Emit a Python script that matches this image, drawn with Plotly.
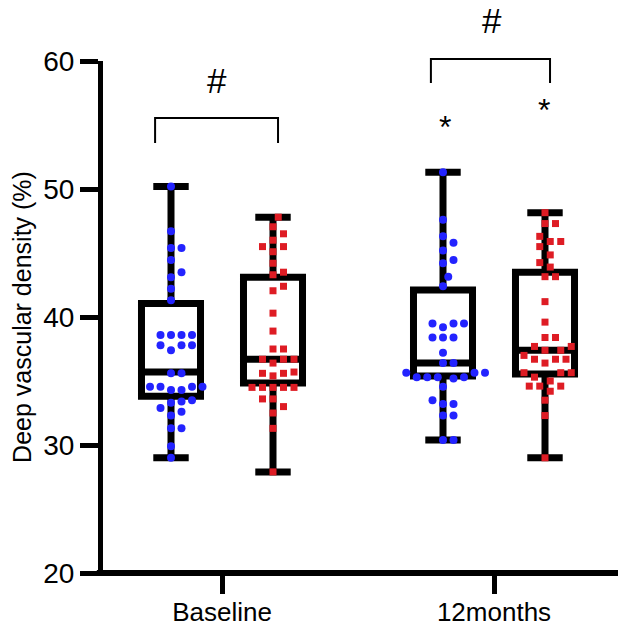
import plotly.graph_objects as go

# ---------------- data ----------------
groups = ["Baseline", "12months"]

blue_baseline = [50.2, 46.7, 45.4, 45.4, 44.45, 43.5, 43.1, 42.2, 41.3,
                 38.6, 38.6, 38.6, 38.6, 37.8, 37.8, 37.4, 37.8,
                 35.6, 35.6, 34.55, 34.55, 34.3, 34.3, 34.55, 34.55,
                 33.3, 33.4, 33.5, 32.6, 32.3, 32.9, 31.3, 31.3, 29.9, 29.0]
red_baseline = [47.8, 47.05, 46.5, 46.0, 45.5, 45.5, 45.1, 44.2, 43.5, 43.3,
                42.4, 42.05, 40.3, 38.9, 37.5, 37.5, 36.7, 36.7, 36.7, 36.4,
                35.7, 35.6, 35.6, 35.4, 34.5, 34.5, 34.5, 34.5, 34.5,
                33.6, 33.6, 33.0, 32.5, 31.3, 27.9]
blue_12m = [51.3, 47.6, 46.3, 45.8, 45.2, 44.45, 44.2, 43.15, 42.4,
            39.5, 39.5, 39.5, 39.2, 38.4, 38.4, 38.4, 37.2, 36.4, 36.4,
            35.65, 35.65, 35.65, 35.3, 35.3, 35.3, 35.3, 35.2, 34.55,
            33.5, 33.2, 33.2, 32.3, 32.3, 30.4, 30.4]
red_12m = [48.15, 47.3, 47.3, 46.3, 45.9, 45.9, 45.5, 44.85, 44.25, 43.9,
           43.15, 43.15, 41.2, 39.6, 38.4, 38.4, 37.7, 37.7, 37.4, 37.4, 37.0,
           36.7, 36.7, 36.7, 36.4, 35.65, 35.65, 35.65, 35.3, 35.0,
           34.6, 34.6, 34.6, 34.2, 33.5, 32.3, 29.0]

# box statistics (lowerfence, q1, median, q3, upperfence)
box_stats = {
    "blue_baseline": [29.0, 33.8, 35.7, 41.05, 50.2],
    "red_baseline": [27.9, 34.85, 36.7, 43.1, 47.8],
    "blue_12m": [30.4, 35.4, 36.4, 42.1, 51.3],
    "red_12m": [29.0, 35.55, 37.4, 43.5, 48.15],
}

# ---------------- layout constants ----------------
W, H = 618, 627
ML, MR, MT, MB = 103, 0, 61, 54
PX_PER_X = 272.0
Y0, Y1 = 20, 60
PX_PER_Y = (H - MT - MB) / (Y1 - Y0)
X_LEFT = (ML - 222) / PX_PER_X
X_RIGHT = X_LEFT + (W - ML - MR) / PX_PER_X
OFF = 0.1875
BLUE = "rgb(35,35,255)"
RED = "rgb(222,28,36)"
FONT = "Arial, Liberation Sans, sans-serif"


def swarm(vals, d=10.5):
    """Simple beeswarm: returns horizontal offsets in data units."""
    order = sorted(range(len(vals)), key=lambda i: vals[i])
    placed = []
    offs = [0.0] * len(vals)
    cands = [0.0]
    for k in range(1, 30):
        cands += [k * d / 2, -k * d / 2]
    for i in order:
        y = vals[i] * PX_PER_Y
        for c in cands:
            if all((c - px) ** 2 + (y - py) ** 2 >= (d * 0.95) ** 2 for px, py in placed):
                placed.append((c, y))
                offs[i] = c / PX_PER_X
                break
    return offs


fig = go.Figure()

series = [
    ("blue_baseline", blue_baseline, 0 - OFF, BLUE, "circle"),
    ("red_baseline", red_baseline, 0 + OFF, RED, "square"),
    ("blue_12m", blue_12m, 1 - OFF, BLUE, "circle"),
    ("red_12m", red_12m, 1 + OFF, RED, "square"),
]

for key, vals, pos, col, sym in series:
    lf, q1, med, q3, uf = box_stats[key]
    fig.add_trace(go.Box(
        x=[pos], q1=[q1], median=[med], q3=[q3], lowerfence=[lf], upperfence=[uf],
        width=0.217, whiskerwidth=0.6, boxpoints=False,
        line=dict(color="black", width=7), fillcolor="rgba(0,0,0,0)",
        showlegend=False, hoverinfo="skip",
    ))

for key, vals, pos, col, sym in series:
    offs = swarm(vals)
    fig.add_trace(go.Scatter(
        x=[pos + o for o in offs], y=vals, mode="markers",
        marker=dict(color=col, symbol=sym, size=8 if sym == "circle" else 7,
                    line=dict(width=0)),
        showlegend=False, cliponaxis=False,
    ))

# brackets & significance marks
def ypx(py):
    return (H - MB - py) / (H - MT - MB)

bracket_specs = [(-0.246, 0.206, 118, 143), (0.768, 1.206, 59, 83)]
shapes = []
for xa, xb, top, bot in bracket_specs:
    shapes.append(dict(type="path", xref="x", yref="paper",
                       path=f"M {xa},{ypx(bot)} L {xa},{ypx(top)} L {xb},{ypx(top)} L {xb},{ypx(bot)}",
                       line=dict(color="black", width=2)))
# x-axis line
shapes.append(dict(type="line", xref="paper", yref="paper", x0=-0.012, x1=1.0,
                   y0=0, y1=0, line=dict(color="black", width=6)))

annotations = [
    dict(x=(217 - 222) / PX_PER_X, y=ypx(80), text="#"),
    dict(x=(492 - 222) / PX_PER_X, y=ypx(20), text="#"),
]
annotations = [dict(a, xref="x", yref="paper", showarrow=False,
                    font=dict(family=FONT, size=35, color="black"),
                    xanchor="center", yanchor="middle") for a in annotations]
for ax_px, ay_px in [(445, 127), (544, 110)]:
    annotations.append(dict(x=(ax_px - 222) / PX_PER_X, y=ypx(ay_px), text="*",
                            xref="x", yref="paper", showarrow=False,
                            font=dict(family=FONT, size=32, color="black"),
                            xanchor="center", yanchor="middle"))

fig.update_layout(
    width=W, height=H,
    margin=dict(l=ML, r=MR, t=MT, b=MB, pad=0, autoexpand=False),
    paper_bgcolor="white", plot_bgcolor="white",
    font=dict(family=FONT, color="black"),
    shapes=shapes, annotations=annotations,
    xaxis=dict(range=[X_LEFT, X_RIGHT], tickvals=[0, 1], ticktext=groups,
               automargin=False, ticklabelstandoff=-4,
               showgrid=False, zeroline=False, showline=False,
               ticks="outside", ticklen=20, tickwidth=5, tickcolor="black",
               tickfont=dict(size=26, family=FONT, color="black")),
    yaxis=dict(range=[Y0, Y1], tickvals=[20, 30, 40, 50, 60],
               automargin=False,
               showgrid=False, zeroline=False, showline=True, linewidth=5,
               linecolor="black", ticks="outside", ticklen=18, tickwidth=5,
               tickcolor="black",
               tickfont=dict(size=28, family=FONT, color="black"),
               title=dict(text="Deep vascular density (%)",
                          font=dict(size=25, family=FONT, color="black"),
                          standoff=6)),
)

fig.write_html("out.html")
